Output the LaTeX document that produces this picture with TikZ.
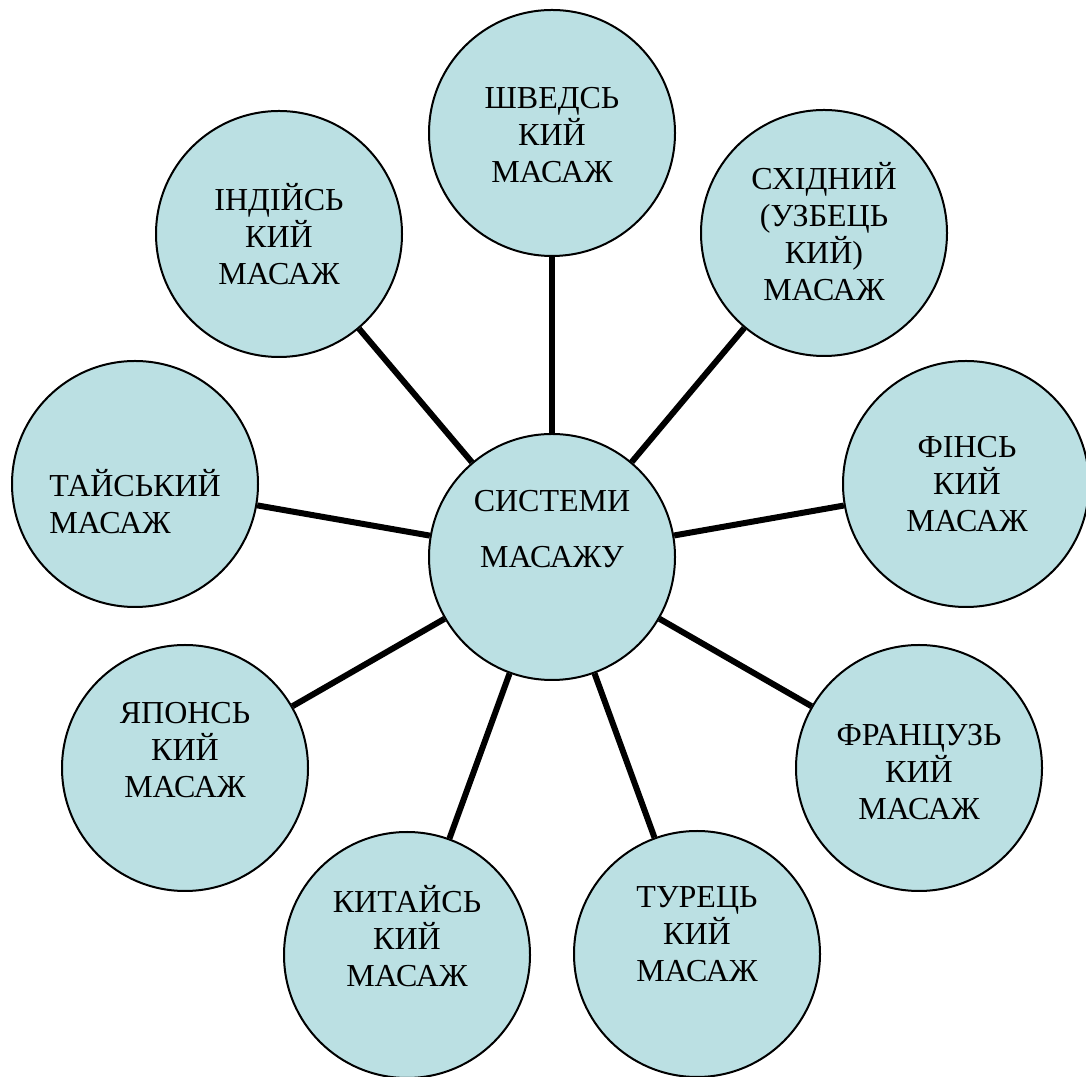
\documentclass[tikz,border=0pt]{standalone}
\usepackage{fontspec}
\setmainfont{Liberation Serif}
\definecolor{ballfill}{RGB}{187,224,227}
\tikzset{
  ball/.style={circle,draw=black,line width=2bp,fill=ballfill,minimum size=246bp,inner sep=0pt},
  btext/.style={align=center,inner sep=0pt,font=\fontsize{32bp}{37bp}\selectfont},
  spoke/.style={line width=6bp,black},
}
\begin{document}
\begin{tikzpicture}[line join=bevel,]
\useasboundingbox (0bp,0bp) rectangle (1086bp,1077bp);
%%
\node (sys) at (552bp,520bp) [ball] {};
  \node (shved) at (552bp,944bp) [ball] {};
  \node (skhid) at (824bp,844bp) [ball] {};
  \node (fin) at (966bp,593bp) [ball] {};
  \node (french) at (919bp,309bp) [ball] {};
  \node (turk) at (697bp,123bp) [ball] {};
  \node (china) at (407bp,122bp) [ball] {};
  \node (japan) at (185bp,309bp) [ball] {};
  \node (thai) at (135bp,593bp) [ball] {};
  \node (india) at (279bp,843bp) [ball] {};
%%
  \node (sys-t) at (552bp,548bp) [btext] {СИСТЕМИ\\[19bp]МАСАЖУ};
  \node (shved-t) at (552bp,942bp) [btext] {ШВЕДСЬ\\КИЙ\\МАСАЖ};
  \node (skhid-t) at (824bp,845bp) [btext] {СХІДНИЙ\\(УЗБЕЦЬ\\КИЙ)\\МАСАЖ};
  \node (fin-t) at (967bp,593bp) [btext] {ФІНСЬ\\КИЙ\\МАСАЖ};
  \node (french-t) at (919bp,305bp) [btext] {ФРАНЦУЗЬ\\КИЙ\\МАСАЖ};
  \node (turk-t) at (697bp,143bp) [btext] {ТУРЕЦЬ\\КИЙ\\МАСАЖ};
  \node (china-t) at (407bp,141bp) [btext] {КИТАЙСЬ\\КИЙ\\МАСАЖ};
  \node (japan-t) at (185bp,327bp) [btext] {ЯПОНСЬ\\КИЙ\\МАСАЖ};
  \node (thai-t) at (135bp,575bp) [btext,align=left] {ТАЙСЬКИЙ\\МАСАЖ};
  \node (india-t) at (279bp,843bp) [btext] {ІНДІЙСЬ\\КИЙ\\МАСАЖ};
%%
  \draw [spoke] (sys) -- (shved);
  \draw [spoke] (sys) -- (skhid);
  \draw [spoke] (sys) -- (fin);
  \draw [spoke] (sys) -- (french);
  \draw [spoke] (sys) -- (turk);
  \draw [spoke] (sys) -- (china);
  \draw [spoke] (sys) -- (japan);
  \draw [spoke] (sys) -- (thai);
  \draw [spoke] (sys) -- (india);
%
\end{tikzpicture}
\end{document}
